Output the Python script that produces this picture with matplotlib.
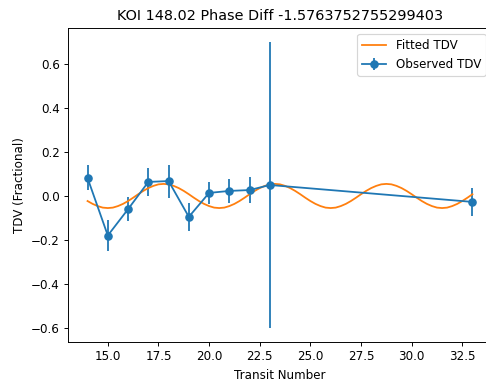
import numpy as np
import matplotlib
matplotlib.use("Agg")
import matplotlib.pyplot as plt

# observed transit timing variations
transit_number = [14, 15, 16, 17, 18, 19, 20, 21, 22, 23, 33]
observed_tdv = [0.082, -0.180, -0.060, 0.064, 0.068, -0.095, 0.014, 0.023, 0.027, 0.050, -0.027]
observed_err = [0.057, 0.070, 0.055, 0.065, 0.075, 0.065, 0.050, 0.055, 0.060, 0.650, 0.065]

# fitted curve, every quarter transit
fit_transit = np.arange(14, 33.001, 0.25)
fitted_tdv = [
    -0.023, -0.036, -0.046, -0.053, -0.055, -0.053, -0.046, -0.036, -0.023, -0.008, 0.008,
    0.023, 0.036, 0.046, 0.053, 0.055, 0.053, 0.046, 0.036, 0.023, 0.008, -0.008,
    -0.023, -0.036, -0.046, -0.053, -0.055, -0.053, -0.046, -0.036, -0.023, -0.008, 0.008,
    0.023, 0.036, 0.046, 0.053, 0.055, 0.053, 0.046, 0.036, 0.023, 0.008, -0.008,
    -0.023, -0.036, -0.046, -0.053, -0.055, -0.053, -0.046, -0.036, -0.023, -0.008, 0.008,
    0.023, 0.036, 0.046, 0.053, 0.055, 0.053, 0.046, 0.036, 0.023, 0.008, -0.008,
    -0.023, -0.036, -0.046, -0.053, -0.055, -0.053, -0.046, -0.036, -0.023, -0.008, 0.008,
]

# the reference looks like a default figure shrunk a bit
s = 0.86
plt.rcParams.update({
    'font.size': 10 * s,
    'lines.linewidth': 1.5 * s,
    'lines.markersize': 6 * s,
    'axes.linewidth': 0.8 * s,
    'xtick.major.size': 3.5 * s,
    'ytick.major.size': 3.5 * s,
    'xtick.major.width': 0.8 * s,
    'ytick.major.width': 0.8 * s,
    'xtick.major.pad': 3.5 * s,
    'ytick.major.pad': 3.5 * s,
    'patch.linewidth': 1.0 * s,
})

fig = plt.figure(figsize=(4.86, 3.83), dpi=100)
ax = fig.add_axes([68.3 / 486, 1 - 342 / 383, (491.7 - 68.3) / 486, (342 - 28) / 383])

ax.errorbar(transit_number, observed_tdv, yerr=observed_err, fmt='-o', label='Observed TDV')
ax.plot(fit_transit, fitted_tdv, label='Fitted TDV')

ax.set_xlabel('Transit Number')
ax.set_ylabel('TDV (Fractional)')
ax.set_title('KOI 148.02 Phase Diff -1.5763752755299403')
ax.legend(loc='upper right')

fig.savefig('out.png', dpi=100)
